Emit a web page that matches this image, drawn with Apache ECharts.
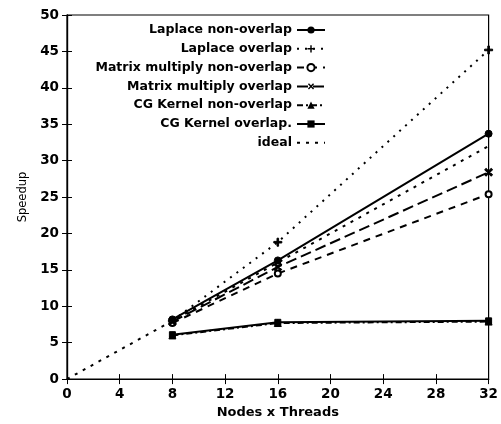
<!DOCTYPE html>
<html>
<head>
<meta charset="utf-8">
<script src="https://cdn.jsdelivr.net/npm/echarts@6/dist/echarts.min.js"></script>
<style>
  html, body { margin: 0; padding: 0; background: #fff; }
  #chart { width: 501px; height: 424px; }
</style>
</head>
<body>
<div id="chart"></div>
<script>
// data
var threads = [8, 16, 32];
var laplaceNon = [8.2, 16.3, 33.7];
var laplaceOv = [8.0, 18.8, 45.2];
var matrixNon = [7.7, 14.5, 25.4];
var matrixOv = [7.9, 15.4, 28.4];
var cgNon = [6.0, 7.7, 7.9];
var cgOv = [6.1, 7.8, 8.0];
var idealX = [0, 32];
var idealY = [0, 32];

var names = ["Laplace non-overlap", "Laplace overlap", "Matrix multiply non-overlap",
	"Matrix multiply overlap", "CG Kernel non-overlap", "CG Kernel overlap.", "ideal"];

var FONT = "DejaVu Sans";
var plus = 'path://M4,0h2v10h-2zM0,4h10v2h-10z';

var pairs = function(xs, ys){
	var out = [];
	for (var i = 0; i < xs.length; i++) out.push([xs[i], ys[i]]);
	return out;
}

var mk = function(name, xs, ys, dash, symbol, size, extra){
	var s = {
		name: name,
		type: "line",
		data: pairs(xs, ys),
		symbol: symbol,
		symbolSize: size,
		lineStyle: { color: "#000", width: 2, type: dash },
		itemStyle: { color: "#000", borderColor: "#000" },
		animation: false,
		z: 3
	};
	if (extra) for (var k in extra) s[k] = extra[k];
	return s;
}

var series = [
	mk(names[0], threads, laplaceNon, "solid", "circle", 7),
	mk(names[1], threads, laplaceOv, [2, 6], plus, 8),
	mk(names[2], threads, matrixNon, [7, 6], "emptyCircle", 6, { itemStyle: { color: "#000", borderWidth: 1.5 } }),
	mk(names[3], threads, matrixOv, [11, 5], plus, 9, { symbolRotate: 45 }),
	mk(names[4], threads, cgNon, [6, 3, 2, 3], "triangle", 7),
	mk(names[5], threads, cgOv, "solid", "rect", 6),
	mk(names[6], idealX, idealY, [3, 6], "none", 0)
];

var legendData = names.map(function(n){
	if (n == "ideal") return { name: n, itemStyle: { opacity: 0 } };
	return { name: n };
});

var chart = echarts.init(document.getElementById("chart"));
var tickStyle = { color: "#000", fontFamily: FONT, fontSize: 13.5, fontWeight: "bold" };

chart.setOption({
	backgroundColor: "#fff",
	animation: false,
	grid: { left: 67, right: 9, top: 15, bottom: 37, show: true, borderColor: "#000", borderWidth: 1.2 },
	legend: {
		data: legendData,
		orient: "vertical",
		align: "right",
		right: 170,
		top: 18,
		itemWidth: 28,
		itemHeight: 9,
		itemGap: 4.8,
		textStyle: { color: "#000", fontFamily: FONT, fontSize: 12.5, fontWeight: "bold", lineHeight: 14 },
		inactiveColor: "#000",
		selectedMode: false
	},
	xAxis: [{
		type: "value", min: 0, max: 32, interval: 4,
		name: "Nodes x Threads", nameLocation: "middle", nameGap: 25,
		nameTextStyle: { color: "#000", fontFamily: FONT, fontSize: 13, fontWeight: "bold" },
		axisLine: { show: true, lineStyle: { color: "#000", width: 1.2 } },
		axisTick: { show: true, inside: true, length: 5, lineStyle: { color: "#000" } },
		axisLabel: tickStyle,
		splitLine: { show: false }
	}, {
		type: "value", min: 0, max: 32, interval: 4, position: "top",
		axisLine: { show: true, lineStyle: { color: "#000", width: 1.2 } },
		axisTick: { show: true, inside: true, length: 5, lineStyle: { color: "#000" } },
		axisLabel: { show: false }, splitLine: { show: false }
	}],
	yAxis: [{
		type: "value", min: 0, max: 50, interval: 5,
		name: "Speedup", nameLocation: "middle", nameGap: 35,
		nameTextStyle: { color: "#000", fontFamily: FONT, fontSize: 11.5 },
		axisLine: { show: true, lineStyle: { color: "#000", width: 1.2 } },
		axisTick: { show: true, inside: true, length: 5, lineStyle: { color: "#000" } },
		axisLabel: tickStyle,
		splitLine: { show: false }
	}, {
		type: "value", min: 0, max: 50, interval: 5, position: "right",
		axisLine: { show: true, lineStyle: { color: "#000", width: 1.2 } },
		axisTick: { show: true, inside: true, length: 5, lineStyle: { color: "#000" } },
		axisLabel: { show: false }, splitLine: { show: false }
	}],
	series: series
});
</script>
</body>
</html>
